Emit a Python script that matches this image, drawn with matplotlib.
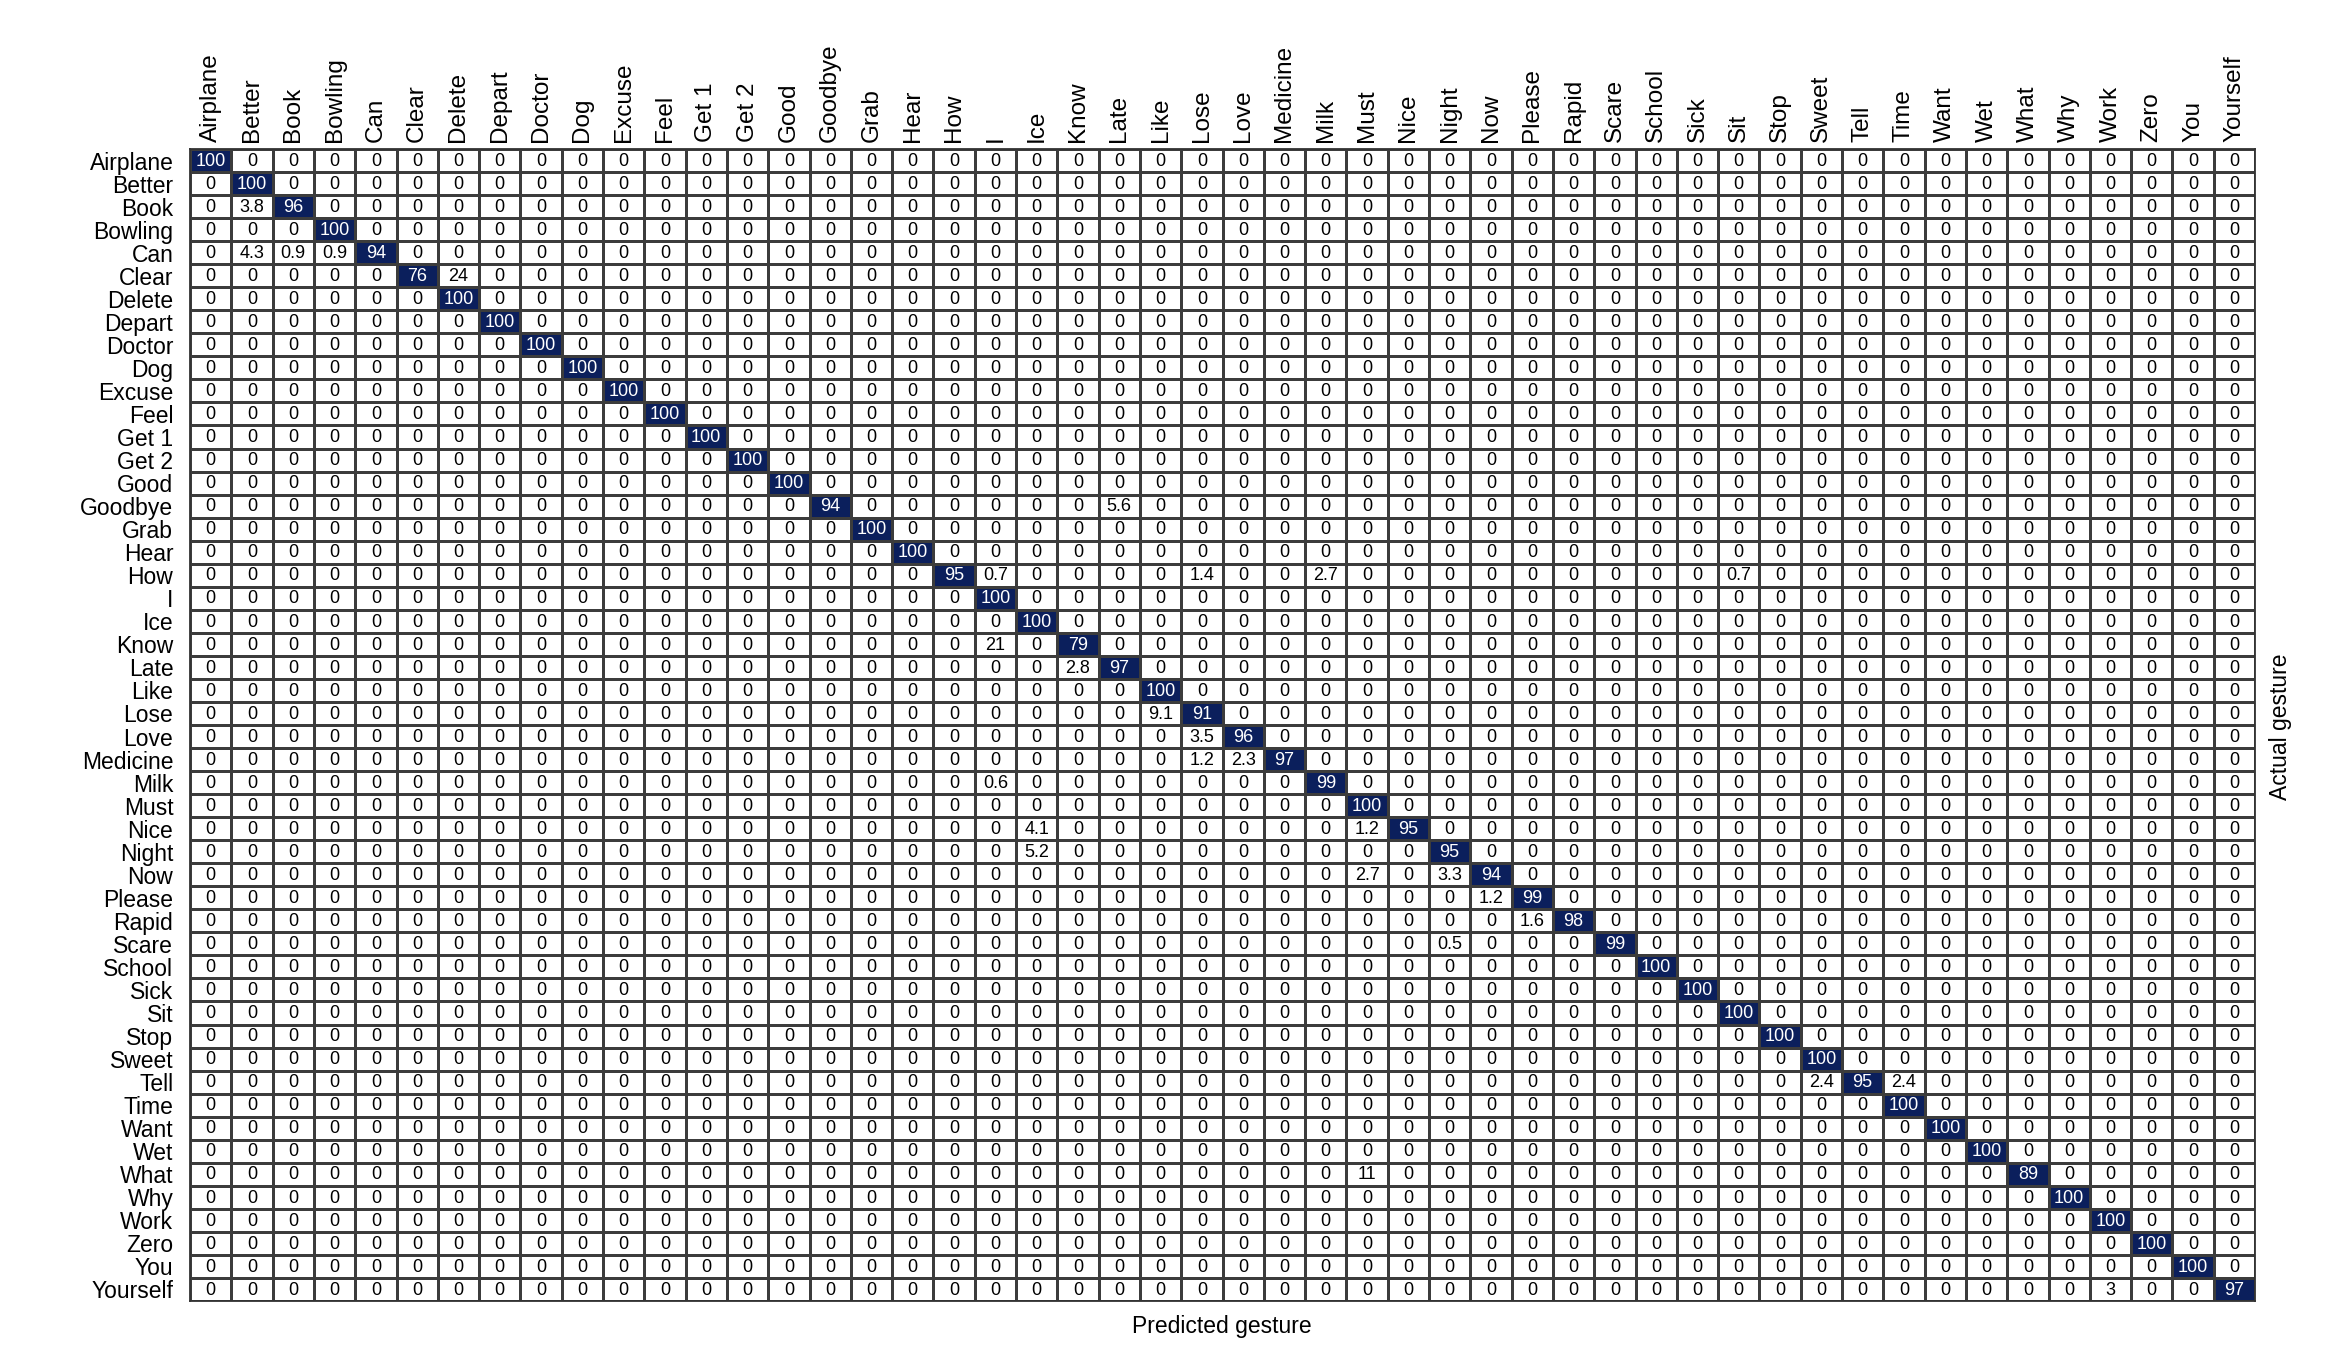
import numpy as np
import matplotlib
matplotlib.use("Agg")
import matplotlib.pyplot as plt
from matplotlib.colors import ListedColormap, BoundaryNorm

plt.rcParams['font.family'] = ['Liberation Sans', 'DejaVu Sans']

labels = ["Airplane", "Better", "Book", "Bowling", "Can", "Clear", "Delete", "Depart",
          "Doctor", "Dog", "Excuse", "Feel", "Get 1", "Get 2", "Good", "Goodbye", "Grab",
          "Hear", "How", "I", "Ice", "Know", "Late", "Like", "Lose", "Love", "Medicine",
          "Milk", "Must", "Nice", "Night", "Now", "Please", "Rapid", "Scare", "School",
          "Sick", "Sit", "Stop", "Sweet", "Tell", "Time", "Want", "Wet", "What", "Why",
          "Work", "Zero", "You", "Yourself"]

diagonal = [100, 100, 96, 100, 94, 76, 100, 100, 100, 100, 100, 100, 100, 100, 100, 94,
            100, 100, 95, 100, 100, 79, 97, 100, 91, 96, 97, 99, 100, 95, 95, 94, 99, 98,
            99, 100, 100, 100, 100, 100, 95, 100, 100, 100, 89, 100, 100, 100, 100, 97]

# off-diagonal confusions: (actual, predicted, percent)
conf_actual = ["Book", "Can", "Can", "Can", "Clear", "Goodbye", "How", "How", "How", "How",
               "Know", "Late", "Lose", "Love", "Medicine", "Medicine", "Milk", "Nice", "Nice",
               "Night", "Now", "Now", "Please", "Rapid", "Scare", "Tell", "Tell", "What",
               "Yourself"]
conf_predicted = ["Better", "Better", "Book", "Bowling", "Delete", "Late", "I", "Lose", "Milk",
                  "Sit", "I", "Know", "Like", "Lose", "Lose", "Love", "I", "Ice", "Must",
                  "Ice", "Must", "Night", "Now", "Please", "Night", "Sweet", "Time", "Must",
                  "Work"]
conf_values = [3.8, 4.3, 0.9, 0.9, 24, 5.6, 0.7, 1.4, 2.7, 0.7, 21, 2.8, 9.1, 3.5, 1.2, 2.3,
               0.6, 4.1, 1.2, 5.2, 2.7, 3.3, 1.2, 1.6, 0.5, 2.4, 2.4, 11, 3]

n = len(labels)
idx = {l: i for i, l in enumerate(labels)}
M = np.zeros((n, n))
for i, v in enumerate(diagonal):
    M[i, i] = v
for a, p, v in zip(conf_actual, conf_predicted, conf_values):
    M[idx[a], idx[p]] = v

W, H = 2342, 1356
fig = plt.figure(figsize=(W / 100, H / 100), dpi=100)
L, R, T, B = 190, 2255, 149, 1301
ax = fig.add_axes([L / W, 1 - B / H, (R - L) / W, (B - T) / H])

navy = '#0b1f5c'
cmap = ListedColormap(['white', navy])
norm = BoundaryNorm([0, 50, 101], 2)
ax.pcolormesh(np.arange(n + 1), np.arange(n + 1), M, cmap=cmap, norm=norm,
              edgecolors='#3c3c3c', linewidth=1.0)
ax.set_xlim(0, n)
ax.set_ylim(n, 0)

def fmt(v):
    if v >= 10:
        return f"{v:.0f}"
    return f"{v:.2g}"

for i in range(n):
    for j in range(n):
        v = M[i, j]
        ax.text(j + 0.5, i + 0.53, fmt(v), ha='center', va='center', fontsize=13,
                color='white' if v >= 50 else 'black')

ax.xaxis.tick_top()
ax.set_xticks(np.arange(n) + 0.5)
ax.set_xticklabels(labels, rotation=90, fontsize=17.5, ha='center', va='bottom')
ax.set_yticks(np.arange(n) + 0.5)
ax.set_yticklabels(labels, fontsize=16.5)
ax.tick_params(axis='both', length=0)
ax.tick_params(axis='x', pad=5)
ax.tick_params(axis='y', pad=12)
for s in ax.spines.values():
    s.set_color('#333333')
    s.set_linewidth(1.3)

fig.text(1222 / W, 1 - 1326 / H, "Predicted gesture", ha='center', va='center', fontsize=16.5)
fig.text(2281 / W, 1 - 727 / H, "Actual gesture", ha='center', va='center', fontsize=16.5,
         rotation=90)

fig.savefig("out.png", dpi=100, facecolor='white')
